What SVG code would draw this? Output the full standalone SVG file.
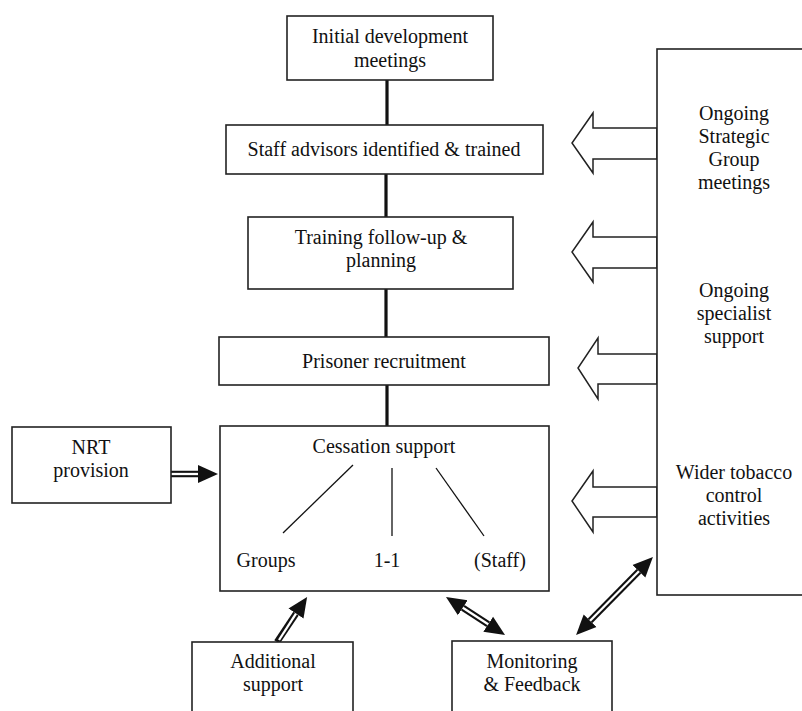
<svg xmlns="http://www.w3.org/2000/svg" width="802" height="711" viewBox="0 0 802 711">
<style>
.box{fill:#fff;stroke:#222;stroke-width:1.6}
.t{font-family:"Liberation Serif","Times New Roman",serif;font-size:20px;fill:#111;text-anchor:middle}
.vl{stroke:#111;stroke-width:3.2;fill:none}
.thin{stroke:#111;stroke-width:1.3;fill:none}
.hollow{fill:#fff;stroke:#222;stroke-width:1.5;stroke-linejoin:miter}
.dbo{stroke:#111;stroke-width:6.5;fill:none}
.dbi{stroke:#fff;stroke-width:2.3;fill:none}
</style>
<defs>
<marker id="ah" markerUnits="userSpaceOnUse" markerWidth="22" markerHeight="20" refX="0" refY="9" orient="auto-start-reverse" viewBox="0 0 22 18">
<path d="M0,0 L20,9 L0,18 z" fill="#111"/>
</marker>
</defs>
<g id="connectors">
<line class="vl" x1="387" y1="80" x2="387" y2="125"/>
<line class="vl" x1="386" y1="174" x2="386" y2="217"/>
<line class="vl" x1="386" y1="289" x2="386" y2="337"/>
<line class="vl" x1="387" y1="385" x2="387" y2="426"/>
<polygon class="hollow" points="657,128 593,128 593,113 572,143 593,173 593,159 657,159"/>
<polygon class="hollow" points="657,237 593,237 593,222 572,252 593,282 593,268 657,268"/>
<polygon class="hollow" points="657,354 598,354 598,338 578,368 598,399 598,384 657,384"/>
<polygon class="hollow" points="657,487 593,487 593,471 572,501 593,532 593,517 657,517"/>
<path class="dbo" d="M171,474 L198,474" marker-end="url(#ah)"/>
<path class="dbi" d="M171,474 L198,474"/>
<path class="dbo" d="M277,642 L296,613.6" marker-end="url(#ah)"/>
<path class="dbi" d="M279,640 L296,613.6"/>
<path class="dbo" d="M462.8,607.8 L488.2,624.2" marker-start="url(#ah)" marker-end="url(#ah)"/>
<path class="dbi" d="M462.8,607.8 L488.2,624.2"/>
<path class="dbo" d="M590.1,620.8 L638.9,571.2" marker-start="url(#ah)" marker-end="url(#ah)"/>
<path class="dbi" d="M590.1,620.8 L638.9,571.2"/>
</g>
<g id="initial">
<rect class="box" x="287" y="16" width="206" height="64"/>
<text class="t" x="390" y="43">Initial development</text>
<text class="t" x="390" y="67">meetings</text>
</g>
<g id="staff">
<rect class="box" x="226" y="125" width="317" height="49"/>
<text class="t" x="384" y="156">Staff advisors identified &amp; trained</text>
</g>
<g id="training">
<rect class="box" x="248" y="217" width="265" height="72"/>
<text class="t" x="381" y="244">Training follow-up &amp;</text>
<text class="t" x="381" y="267">planning</text>
</g>
<g id="prisoner">
<rect class="box" x="219" y="337" width="330" height="48"/>
<text class="t" x="384" y="368">Prisoner recruitment</text>
</g>
<g id="cessation">
<rect class="box" x="220" y="426" width="329" height="165"/>
<text class="t" x="384" y="453">Cessation support</text>
<line class="thin" x1="353" y1="465" x2="283" y2="533"/>
<line class="thin" x1="392" y1="468" x2="392" y2="536"/>
<line class="thin" x1="436" y1="468" x2="484" y2="536"/>
<text class="t" x="266" y="567">Groups</text>
<text class="t" x="387" y="567">1-1</text>
<text class="t" x="500" y="567">(Staff)</text>
</g>
<g id="nrt">
<rect class="box" x="12" y="427" width="159" height="76"/>
<text class="t" x="91" y="454">NRT</text>
<text class="t" x="91" y="477">provision</text>
</g>
<g id="additional">
<rect class="box" x="192" y="642" width="161" height="80"/>
<text class="t" x="273" y="668">Additional</text>
<text class="t" x="273" y="691">support</text>
</g>
<g id="monitoring">
<rect class="box" x="452" y="641" width="160" height="80"/>
<text class="t" x="532" y="668">Monitoring</text>
<text class="t" x="532" y="691">&amp; Feedback</text>
</g>
<g id="ongoing">
<rect class="box" x="657" y="49" width="160" height="546"/>
<text class="t" x="734" y="120">Ongoing</text>
<text class="t" x="734" y="143">Strategic</text>
<text class="t" x="734" y="166">Group</text>
<text class="t" x="734" y="189">meetings</text>
<text class="t" x="734" y="297">Ongoing</text>
<text class="t" x="734" y="320">specialist</text>
<text class="t" x="734" y="343">support</text>
<text class="t" x="734" y="479">Wider tobacco</text>
<text class="t" x="734" y="502">control</text>
<text class="t" x="734" y="525">activities</text>
</g>
</svg>
